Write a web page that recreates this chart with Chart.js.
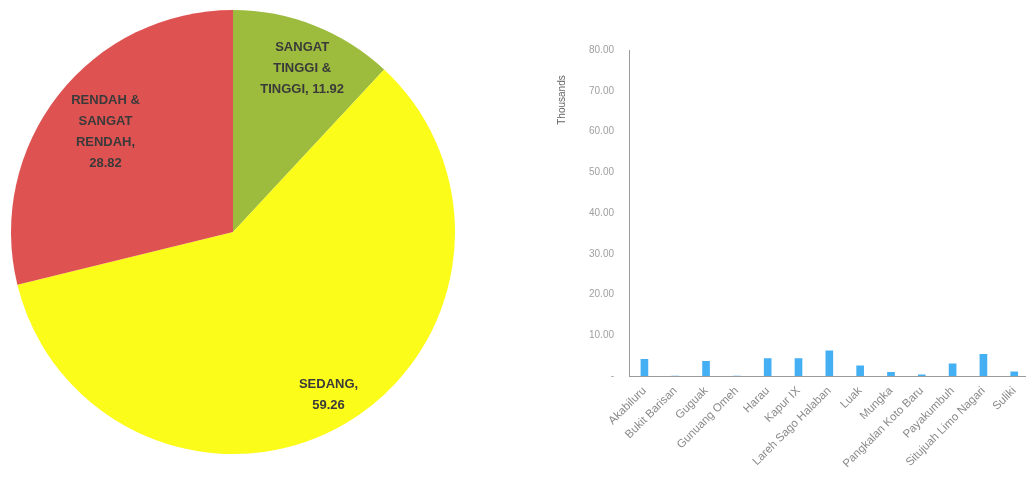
<!DOCTYPE html>
<html>
<head>
<meta charset="utf-8">
<script src="https://cdn.jsdelivr.net/npm/chart.js@4.4.1/dist/chart.umd.min.js"></script>
<style>
  html, body { margin: 0; padding: 0; background: #fff; overflow: hidden; }
  body { width: 1026px; height: 489px; position: relative; }
  #pieWrap { position: absolute; left: 11px; top: 10px; width: 444px; height: 444px; }
  #barWrap { position: absolute; left: 540px; top: 0; width: 492px; height: 489px; }
</style>
</head>
<body>
<div id="pieWrap"><canvas id="PieChart"></canvas></div>
<div id="barWrap"><canvas id="BarChart"></canvas></div>
<script>
// pie - kategori
const pieLabels = ['SANGAT\nTINGGI &\nTINGGI', 'SEDANG', 'RENDAH &\nSANGAT\nRENDAH'];
const pieValues = [11.92, 59.26, 28.82];
const pieColors = ['#9dbb3d', '#fcfc1a', '#de5351'];

// bar - per kecamatan (nilai asli, sumbu dalam ribuan)
const kecamatan = ['Akabiluru', 'Bukit Barisan', 'Guguak', 'Gunuang Omeh', 'Harau', 'Kapur IX',
    'Lareh Sago Halaban', 'Luak', 'Mungka', 'Pangkalan Koto Baru', 'Payakumbuh',
    'Situjuah Limo Nagari', 'Suliki'];
const barValues = [4100, 0, 3600, 0, 4300, 4300, 6200, 2500, 900, 300, 3000, 5300, 1000];
const yTicks = [0, 10000, 20000, 30000, 40000, 50000, 60000, 70000, 80000];

// label text inside the slices
const pieText = {
    id: 'pieText',
    afterDatasetsDraw(chart) {
        const ctx = chart.ctx;
        const meta = chart.getDatasetMeta(0);
        const seps = [', ', ',\n', ',\n'];
        const rf = [0.79, 0.85, 0.73];
        ctx.save();
        ctx.font = 'bold 13px "Liberation Sans", Arial, sans-serif';
        ctx.fillStyle = '#3a3a3a';
        ctx.textAlign = 'center';
        ctx.textBaseline = 'middle';
        meta.data.forEach((arc, i) => {
            const mid = (arc.startAngle + arc.endAngle) / 2;
            const r = arc.outerRadius * rf[i];
            const x = arc.x + Math.cos(mid) * r + (i === 0 ? 5 : 0);
            const y = arc.y + Math.sin(mid) * r;
            const lines = (pieLabels[i] + seps[i] + pieValues[i].toFixed(2)).split('\n');
            const lh = 21;
            lines.forEach((t, k) => {
                ctx.fillText(t, x, y + (k - (lines.length - 1) / 2) * lh);
            });
        });
        ctx.restore();
    }
};

new Chart(document.getElementById('PieChart'), {
    type: 'pie',
    data: {
        labels: pieLabels,
        datasets: [{
            data: pieValues,
            backgroundColor: pieColors,
            borderWidth: 0
        }]
    },
    options: {
        animation: false,
        maintainAspectRatio: false,
        layout: { padding: 0 },
        plugins: {
            legend: { display: false },
            tooltip: { enabled: false }
        }
    },
    plugins: [pieText]
});

// "Thousands" unit label
const unitLabel = {
    id: 'unitLabel',
    afterDraw(chart) {
        const ctx = chart.ctx;
        ctx.save();
        ctx.translate(22, 100);
        ctx.rotate(-Math.PI / 2);
        ctx.font = '10px "Liberation Sans", Arial, sans-serif';
        ctx.fillStyle = '#666';
        ctx.textAlign = 'center';
        ctx.textBaseline = 'middle';
        ctx.fillText('Thousands', 0, 0);
        ctx.restore();
    }
};

new Chart(document.getElementById('BarChart'), {
    type: 'bar',
    data: {
        labels: kecamatan,
        datasets: [{
            data: barValues,
            backgroundColor: '#45aff3',
            barThickness: 7
        }]
    },
    options: {
        animation: false,
        maintainAspectRatio: false,
        layout: { padding: { top: 50, right: 0, left: 0, bottom: 0 } },
        plugins: {
            legend: { display: false },
            tooltip: { enabled: false }
        },
        scales: {
            y: {
                min: 0,
                max: 80000,
                afterBuildTicks(scale) {
                    scale.ticks = yTicks.map(v => ({ value: v }));
                },
                afterFit(scale) { scale.width = 89; },
                grid: { display: false, drawTicks: false },
                border: { display: true, color: '#9a9a9a', width: 1 },
                ticks: {
                    padding: 15,
                    color: '#a0a0a0',
                    font: { family: '"Liberation Sans", Arial, sans-serif', size: 10 },
                    callback: v => v === 0 ? '-' : (v / 1000).toFixed(2)
                }
            },
            x: {
                afterFit(scale) { scale.height = 113; },
                grid: { display: false, drawTicks: false },
                border: { display: true, color: '#9a9a9a', width: 1 },
                ticks: {
                    minRotation: 45,
                    maxRotation: 45,
                    autoSkip: false,
                    padding: 8,
                    color: '#8a8a8a',
                    font: { family: '"Liberation Sans", Arial, sans-serif', size: 11.5 }
                }
            }
        }
    },
    plugins: [unitLabel]
});
</script>
</body>
</html>
